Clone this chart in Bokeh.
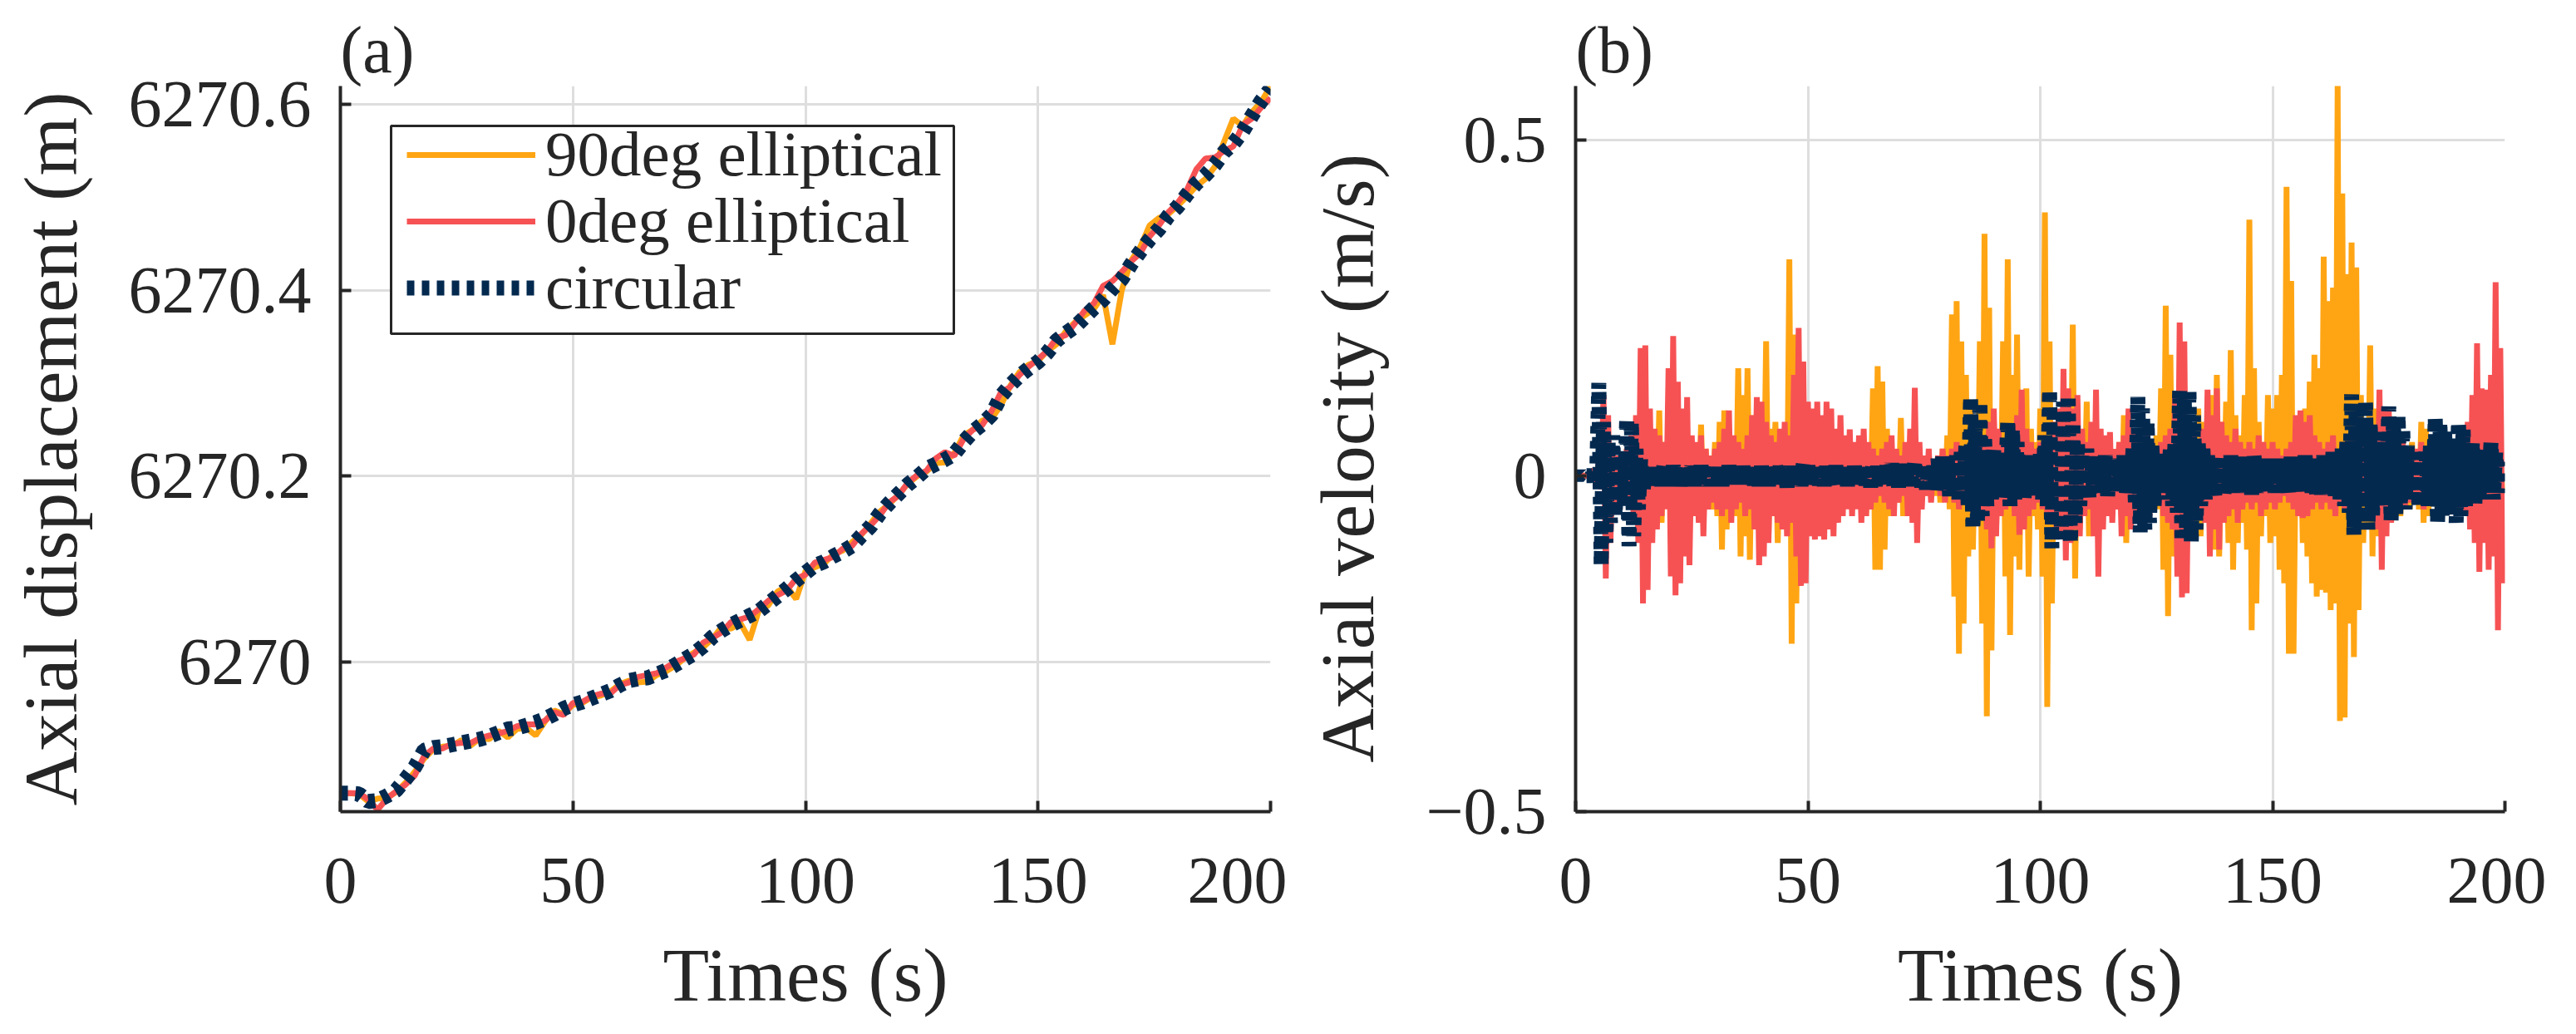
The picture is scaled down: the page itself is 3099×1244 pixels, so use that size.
from bokeh.plotting import figure
from bokeh.layouts import row
from bokeh.models import (Range1d, FixedTicker, CustomJSTickFormatter, Legend,
                          LegendItem, BoxAnnotation)
from bokeh.embed import file_html
from bokeh.resources import INLINE

# ---------------- data ----------------
series_names = ["90deg elliptical", "0deg elliptical", "circular"]
x_ticks = [0, 50, 100, 150, 200]
disp_ticks = [6270, 6270.2, 6270.4, 6270.6]
vel_ticks = [-0.5, 0, 0.5]

disp_t = list(range(0, 201, 2))
disp_90 = [
    6269.859, 6269.859, 6269.858, 6269.850, 6269.853, 6269.854, 6269.860, 6269.870, 6269.882, 6269.896,
    6269.906, 6269.909, 6269.910, 6269.916, 6269.910, 6269.918, 6269.917, 6269.926, 6269.919, 6269.928,
    6269.929, 6269.921, 6269.936, 6269.948, 6269.944, 6269.954, 6269.956, 6269.962, 6269.964, 6269.968,
    6269.976, 6269.980, 6269.978, 6269.979, 6269.986, 6269.990, 6269.996, 6270.004, 6270.010, 6270.016,
    6270.025, 6270.038, 6270.036, 6270.042, 6270.024, 6270.056, 6270.061, 6270.076, 6270.081, 6270.068,
    6270.098, 6270.102, 6270.106, 6270.116, 6270.120, 6270.129, 6270.137, 6270.149, 6270.162, 6270.170,
    6270.180, 6270.192, 6270.200, 6270.205, 6270.214, 6270.215, 6270.225, 6270.244, 6270.250, 6270.260,
    6270.262, 6270.276, 6270.297, 6270.312, 6270.320, 6270.324, 6270.335, 6270.342, 6270.356, 6270.366,
    6270.373, 6270.380, 6270.395, 6270.342, 6270.400, 6270.432, 6270.447, 6270.470, 6270.478, 6270.482,
    6270.491, 6270.501, 6270.512, 6270.520, 6270.533, 6270.560, 6270.585, 6270.577, 6270.592, 6270.603,
    6270.620]
disp_0 = [
    6269.859, 6269.859, 6269.859, 6269.852, 6269.841, 6269.853, 6269.861, 6269.868, 6269.878, 6269.899,
    6269.907, 6269.907, 6269.912, 6269.913, 6269.913, 6269.918, 6269.921, 6269.923, 6269.926, 6269.931,
    6269.933, 6269.933, 6269.937, 6269.946, 6269.943, 6269.956, 6269.957, 6269.963, 6269.966, 6269.966,
    6269.975, 6269.978, 6269.984, 6269.986, 6269.988, 6269.994, 6270.000, 6270.004, 6270.008, 6270.021,
    6270.026, 6270.032, 6270.043, 6270.046, 6270.049, 6270.057, 6270.066, 6270.072, 6270.077, 6270.090,
    6270.094, 6270.107, 6270.110, 6270.113, 6270.122, 6270.125, 6270.138, 6270.147, 6270.158, 6270.172,
    6270.179, 6270.193, 6270.201, 6270.206, 6270.219, 6270.226, 6270.222, 6270.240, 6270.250, 6270.255,
    6270.270, 6270.290, 6270.296, 6270.309, 6270.318, 6270.326, 6270.335, 6270.349, 6270.352, 6270.365,
    6270.378, 6270.386, 6270.405, 6270.410, 6270.420, 6270.431, 6270.440, 6270.458, 6270.470, 6270.484,
    6270.494, 6270.508, 6270.530, 6270.542, 6270.543, 6270.550, 6270.555, 6270.578, 6270.585, 6270.597,
    6270.607]
disp_circ = [
    6269.859, 6269.859, 6269.858, 6269.850, 6269.851, 6269.856, 6269.862, 6269.874, 6269.887, 6269.905,
    6269.908, 6269.909, 6269.911, 6269.913, 6269.915, 6269.917, 6269.920, 6269.924, 6269.928, 6269.929,
    6269.932, 6269.935, 6269.939, 6269.944, 6269.950, 6269.954, 6269.957, 6269.961, 6269.965, 6269.969,
    6269.975, 6269.980, 6269.982, 6269.983, 6269.987, 6269.991, 6269.997, 6270.003, 6270.009, 6270.017,
    6270.027, 6270.034, 6270.040, 6270.045, 6270.050, 6270.055, 6270.063, 6270.071, 6270.079, 6270.088,
    6270.096, 6270.104, 6270.108, 6270.114, 6270.119, 6270.125, 6270.136, 6270.146, 6270.160, 6270.171,
    6270.181, 6270.191, 6270.199, 6270.208, 6270.213, 6270.218, 6270.224, 6270.237, 6270.248, 6270.256,
    6270.266, 6270.286, 6270.298, 6270.308, 6270.316, 6270.323, 6270.333, 6270.346, 6270.354, 6270.361,
    6270.371, 6270.381, 6270.390, 6270.402, 6270.412, 6270.428, 6270.442, 6270.455, 6270.466, 6270.480,
    6270.490, 6270.503, 6270.515, 6270.524, 6270.535, 6270.549, 6270.558, 6270.571, 6270.588, 6270.604,
    6270.617]

# velocity: per-second upper and lower swing values (s = 0..199)
vel_sec = list(range(200))
vel_90_hi = [
    0.0, 0.0, 0.0, 0.0, 0.005, 0.01, 0.02, 0.03, 0.03, 0.02,
    0.03, 0.02, 0.03, 0.02, 0.03, 0.04, 0.05, 0.06, 0.097, 0.05,
    0.04, 0.03, 0.05, 0.03, 0.04, 0.05, 0.03, 0.076, 0.04, 0.03,
    0.05, 0.08, 0.097, 0.06, 0.04, 0.16, 0.12, 0.16, 0.09, 0.06,
    0.05, 0.20, 0.07, 0.08, 0.06, 0.05, 0.322, 0.21, 0.12, 0.06,
    0.04, 0.03, 0.05, 0.02, 0.03, 0.02, 0.03, 0.02, 0.03, 0.04,
    0.03, 0.02, 0.05, 0.04, 0.13, 0.163, 0.14, 0.07, 0.04, 0.03,
    0.086, 0.04, 0.03, 0.02, 0.03, 0.02, 0.03, 0.02, 0.03, 0.04,
    0.06, 0.24, 0.26, 0.20, 0.15, 0.10, 0.06, 0.20, 0.36, 0.25,
    0.08, 0.05, 0.20, 0.322, 0.15, 0.21, 0.09, 0.13, 0.07, 0.05,
    0.10, 0.392, 0.20, 0.08, 0.05, 0.04, 0.06, 0.225, 0.09, 0.05,
    0.11, 0.05, 0.03, 0.04, 0.03, 0.04, 0.03, 0.05, 0.09, 0.06,
    0.04, 0.05, 0.03, 0.04, 0.05, 0.06, 0.13, 0.253, 0.18, 0.09,
    0.06, 0.05, 0.04, 0.07, 0.10, 0.08, 0.06, 0.12, 0.15, 0.08,
    0.11, 0.187, 0.09, 0.06, 0.12, 0.381, 0.16, 0.08, 0.05, 0.12,
    0.10, 0.12, 0.15, 0.43, 0.29, 0.06, 0.08, 0.10, 0.14, 0.18,
    0.16, 0.326, 0.26, 0.28, 0.583, 0.42, 0.30, 0.347, 0.31, 0.12,
    0.07, 0.194, 0.10, 0.06, 0.05, 0.09, 0.04, 0.06, 0.05, 0.04,
    0.05, 0.03, 0.08, 0.07, 0.04, 0.05, 0.06, 0.04, 0.05, 0.04,
    0.05, 0.04, 0.03, 0.04, 0.05, 0.04, 0.06, 0.05, 0.03, 0.02]
vel_90_lo = [
    0.0, 0.0, 0.0, 0.0, -0.005, -0.01, -0.02, -0.03, -0.02, -0.03,
    -0.02, -0.03, -0.02, -0.04, -0.03, -0.04, -0.05, -0.06, -0.07, -0.04,
    -0.03, -0.04, -0.03, -0.05, -0.04, -0.03, -0.05, -0.06, -0.04, -0.05,
    -0.06, -0.11, -0.08, -0.05, -0.06, -0.12, -0.09, -0.125, -0.07, -0.05,
    -0.06, -0.09, -0.05, -0.10, -0.06, -0.08, -0.25, -0.19, -0.08, -0.05,
    -0.03, -0.04, -0.02, -0.03, -0.02, -0.03, -0.02, -0.04, -0.03, -0.02,
    -0.04, -0.03, -0.06, -0.05, -0.14, -0.14, -0.11, -0.06, -0.03, -0.04,
    -0.06, -0.03, -0.02, -0.03, -0.02, -0.03, -0.02, -0.03, -0.04, -0.03,
    -0.05, -0.18, -0.265, -0.22, -0.12, -0.11, -0.07, -0.22, -0.358, -0.26,
    -0.08, -0.06, -0.15, -0.237, -0.12, -0.14, -0.07, -0.15, -0.06, -0.08,
    -0.15, -0.344, -0.19, -0.09, -0.05, -0.04, -0.07, -0.153, -0.08, -0.04,
    -0.09, -0.04, -0.03, -0.05, -0.03, -0.03, -0.04, -0.06, -0.10, -0.05,
    -0.03, -0.04, -0.05, -0.03, -0.04, -0.05, -0.14, -0.209, -0.12, -0.07,
    -0.05, -0.04, -0.06, -0.08, -0.09, -0.07, -0.08, -0.11, -0.12, -0.07,
    -0.10, -0.14, -0.10, -0.07, -0.11, -0.23, -0.19, -0.09, -0.06, -0.10,
    -0.09, -0.14, -0.16, -0.265, -0.265, -0.06, -0.10, -0.12, -0.16, -0.18,
    -0.17, -0.174, -0.20, -0.19, -0.365, -0.36, -0.22, -0.27, -0.20, -0.10,
    -0.07, -0.12, -0.09, -0.05, -0.04, -0.07, -0.04, -0.06, -0.04, -0.05,
    -0.04, -0.05, -0.07, -0.06, -0.04, -0.05, -0.04, -0.05, -0.04, -0.05,
    -0.04, -0.05, -0.04, -0.03, -0.04, -0.05, -0.04, -0.03, -0.02, -0.02]
vel_0_hi = [
    0.0, 0.0, 0.0, 0.0, 0.01, 0.02, 0.12, 0.09, 0.04, 0.03,
    0.03, 0.04, 0.06, 0.09, 0.19, 0.194, 0.10, 0.07, 0.06, 0.05,
    0.16, 0.208, 0.14, 0.10, 0.117, 0.06, 0.05, 0.06, 0.04, 0.03,
    0.04, 0.05, 0.07, 0.097, 0.06, 0.05, 0.04, 0.06, 0.09, 0.117,
    0.11, 0.08, 0.06, 0.05, 0.07, 0.08, 0.06, 0.15, 0.22, 0.17,
    0.11, 0.10, 0.11, 0.09, 0.11, 0.10, 0.07, 0.09, 0.06, 0.069,
    0.05, 0.06, 0.07, 0.05, 0.04, 0.03, 0.04, 0.05, 0.06, 0.04,
    0.03, 0.05, 0.07, 0.131, 0.05, 0.03, 0.04, 0.02, 0.03, 0.04,
    0.03, 0.04, 0.05, 0.04, 0.03, 0.04, 0.05, 0.06, 0.05, 0.08,
    0.10, 0.07, 0.05, 0.04, 0.06, 0.09, 0.128, 0.07, 0.05, 0.04,
    0.05, 0.06, 0.05, 0.08, 0.10, 0.159, 0.13, 0.10, 0.12, 0.07,
    0.05, 0.08, 0.128, 0.07, 0.06, 0.065, 0.04, 0.05, 0.06, 0.10,
    0.07, 0.05, 0.04, 0.06, 0.05, 0.04, 0.05, 0.06, 0.07, 0.12,
    0.228, 0.20, 0.08, 0.06, 0.05, 0.07, 0.128, 0.09, 0.13, 0.08,
    0.06, 0.05, 0.07, 0.05, 0.04, 0.05, 0.04, 0.06, 0.05, 0.04,
    0.05, 0.04, 0.03, 0.04, 0.05, 0.09, 0.097, 0.08, 0.09, 0.06,
    0.05, 0.04, 0.05, 0.06, 0.04, 0.05, 0.04, 0.06, 0.05, 0.04,
    0.05, 0.06, 0.07, 0.128, 0.10, 0.097, 0.05, 0.04, 0.05, 0.04,
    0.03, 0.04, 0.05, 0.04, 0.03, 0.04, 0.03, 0.04, 0.05, 0.04,
    0.05, 0.06, 0.08, 0.12, 0.197, 0.13, 0.128, 0.15, 0.288, 0.19]
vel_0_lo = [
    0.0, 0.0, 0.0, 0.0, -0.01, -0.02, -0.153, -0.10, -0.05, -0.04,
    -0.04, -0.05, -0.07, -0.10, -0.19, -0.17, -0.10, -0.08, -0.06, -0.05,
    -0.15, -0.178, -0.16, -0.12, -0.133, -0.06, -0.07, -0.09, -0.05, -0.04,
    -0.05, -0.06, -0.05, -0.07, -0.05, -0.04, -0.06, -0.05, -0.08, -0.133,
    -0.12, -0.10, -0.06, -0.07, -0.08, -0.09, -0.07, -0.12, -0.164, -0.16,
    -0.09, -0.095, -0.09, -0.095, -0.08, -0.09, -0.07, -0.06, -0.05, -0.06,
    -0.05, -0.07, -0.06, -0.05, -0.04, -0.03, -0.04, -0.05, -0.06, -0.04,
    -0.03, -0.06, -0.07, -0.10, -0.05, -0.03, -0.04, -0.02, -0.03, -0.04,
    -0.03, -0.04, -0.05, -0.04, -0.05, -0.04, -0.05, -0.06, -0.08, -0.108,
    -0.09, -0.06, -0.05, -0.04, -0.06, -0.088, -0.08, -0.06, -0.05, -0.04,
    -0.05, -0.06, -0.07, -0.08, -0.09, -0.126, -0.10, -0.08, -0.09, -0.06,
    -0.05, -0.09, -0.15, -0.08, -0.06, -0.07, -0.05, -0.09, -0.06, -0.08,
    -0.06, -0.05, -0.04, -0.06, -0.05, -0.04, -0.06, -0.07, -0.08, -0.15,
    -0.181, -0.175, -0.08, -0.06, -0.05, -0.07, -0.12, -0.08, -0.11, -0.07,
    -0.06, -0.05, -0.07, -0.05, -0.04, -0.05, -0.04, -0.06, -0.05, -0.04,
    -0.05, -0.04, -0.03, -0.04, -0.05, -0.06, -0.063, -0.06, -0.05, -0.04,
    -0.05, -0.04, -0.05, -0.06, -0.04, -0.05, -0.04, -0.06, -0.05, -0.04,
    -0.05, -0.06, -0.08, -0.14, -0.09, -0.07, -0.05, -0.04, -0.05, -0.04,
    -0.03, -0.04, -0.05, -0.04, -0.03, -0.04, -0.03, -0.04, -0.05, -0.04,
    -0.05, -0.06, -0.08, -0.10, -0.143, -0.10, -0.14, -0.12, -0.23, -0.16]
vel_circ_hi = [
    0.002, 0.002, 0.0, 0.0, 0.01, 0.138, 0.08, 0.05, 0.06, 0.03,
    0.03, 0.086, 0.08, 0.04, 0.025, 0.015, 0.012, 0.015, 0.012, 0.015,
    0.012, 0.015, 0.014, 0.01, 0.015, 0.014, 0.012, 0.015, 0.017, 0.012,
    0.015, 0.012, 0.014, 0.015, 0.012, 0.01, 0.014, 0.015, 0.012, 0.015,
    0.014, 0.015, 0.012, 0.017, 0.014, 0.012, 0.015, 0.014, 0.015, 0.018,
    0.015, 0.014, 0.012, 0.015, 0.014, 0.012, 0.015, 0.014, 0.012, 0.015,
    0.014, 0.015, 0.012, 0.015, 0.017, 0.014, 0.012, 0.015, 0.018, 0.015,
    0.014, 0.017, 0.015, 0.022, 0.018, 0.015, 0.014, 0.02, 0.025, 0.028,
    0.025, 0.02, 0.03, 0.035, 0.045, 0.117, 0.08, 0.11, 0.06, 0.035,
    0.04, 0.03, 0.025, 0.083, 0.07, 0.05, 0.03, 0.025, 0.03, 0.025,
    0.035, 0.06, 0.128, 0.10, 0.09, 0.11, 0.12, 0.08, 0.05, 0.035,
    0.04, 0.03, 0.025, 0.025, 0.03, 0.025, 0.018, 0.025, 0.03, 0.025,
    0.045, 0.117, 0.10, 0.08, 0.05, 0.035, 0.025, 0.03, 0.04, 0.05,
    0.128, 0.11, 0.128, 0.09, 0.05, 0.04, 0.03, 0.025, 0.03, 0.025,
    0.025, 0.03, 0.025, 0.02, 0.028, 0.025, 0.03, 0.02, 0.025, 0.018,
    0.02, 0.025, 0.018, 0.025, 0.028, 0.02, 0.025, 0.03, 0.025, 0.02,
    0.025, 0.03, 0.028, 0.035, 0.03, 0.04, 0.05, 0.121, 0.10, 0.09,
    0.11, 0.08, 0.07, 0.045, 0.05, 0.103, 0.08, 0.09, 0.07, 0.045,
    0.035, 0.04, 0.035, 0.04, 0.05, 0.086, 0.08, 0.07, 0.06, 0.045,
    0.08, 0.07, 0.045, 0.05, 0.035, 0.04, 0.035, 0.05, 0.035, 0.02]
vel_circ_lo = [
    -0.002, -0.002, 0.0, 0.0, -0.01, -0.133, -0.10, -0.07, -0.06, -0.04,
    -0.04, -0.105, -0.09, -0.05, -0.025, -0.015, -0.014, -0.012, -0.015, -0.012,
    -0.015, -0.012, -0.015, -0.014, -0.012, -0.015, -0.014, -0.012, -0.015, -0.014,
    -0.012, -0.015, -0.014, -0.012, -0.015, -0.014, -0.012, -0.015, -0.014, -0.015,
    -0.012, -0.015, -0.014, -0.012, -0.015, -0.017, -0.014, -0.012, -0.015, -0.014,
    -0.015, -0.012, -0.014, -0.015, -0.012, -0.015, -0.014, -0.012, -0.015, -0.014,
    -0.012, -0.015, -0.014, -0.017, -0.015, -0.012, -0.015, -0.014, -0.015, -0.017,
    -0.015, -0.014, -0.02, -0.015, -0.017, -0.02, -0.015, -0.025, -0.02, -0.025,
    -0.03, -0.025, -0.035, -0.03, -0.045, -0.08, -0.07, -0.06, -0.045, -0.035,
    -0.025, -0.035, -0.025, -0.045, -0.035, -0.025, -0.035, -0.025, -0.025, -0.035,
    -0.035, -0.045, -0.108, -0.10, -0.09, -0.09, -0.10, -0.07, -0.045, -0.035,
    -0.035, -0.025, -0.025, -0.025, -0.03, -0.025, -0.025, -0.018, -0.03, -0.025,
    -0.045, -0.084, -0.08, -0.07, -0.045, -0.025, -0.035, -0.025, -0.045, -0.055,
    -0.098, -0.09, -0.098, -0.08, -0.045, -0.035, -0.025, -0.035, -0.025, -0.03,
    -0.025, -0.03, -0.025, -0.03, -0.025, -0.028, -0.025, -0.02, -0.025, -0.02,
    -0.025, -0.02, -0.025, -0.028, -0.025, -0.02, -0.025, -0.028, -0.025, -0.03,
    -0.028, -0.03, -0.025, -0.03, -0.035, -0.045, -0.055, -0.088, -0.08, -0.07,
    -0.08, -0.06, -0.045, -0.035, -0.045, -0.067, -0.06, -0.045, -0.05, -0.035,
    -0.035, -0.045, -0.035, -0.045, -0.045, -0.07, -0.06, -0.045, -0.05, -0.07,
    -0.06, -0.045, -0.035, -0.045, -0.035, -0.035, -0.025, -0.035, -0.025, -0.02]

# ---------------- styling ----------------
FONT = "Liberation Serif"
INK = "#262626"
C90 = "#FFA514"
C0 = "#F65254"
CCIRC = "#03294F"


def swing(secs, hi, lo):
    xs, ys = [], []
    for s, h, l in zip(secs, hi, lo):
        xs += [s, s + 0.5]
        ys += [h, l]
    return xs, ys


fmt = CustomJSTickFormatter(code="""
    const r = Math.round(tick);
    let s = (Math.abs(tick - r) < 1e-9) ? r.toFixed(0) : tick.toFixed(1);
    return s.replace('-', '\u2212');
""")


def style(p, yticks, panel_tag):
    p.outline_line_color = None
    p.background_fill_color = "white"
    p.border_fill_color = "white"
    p.xaxis.ticker = FixedTicker(ticks=x_ticks)
    p.yaxis.ticker = FixedTicker(ticks=yticks)
    p.xaxis.formatter = fmt
    p.yaxis.formatter = fmt
    for ax in (p.xaxis[0], p.yaxis[0]):
        ax.axis_line_width = 4
        ax.axis_line_color = INK
        ax.major_tick_line_width = 4
        ax.major_tick_line_color = INK
        ax.major_tick_in = 13
        ax.major_tick_out = 0
        ax.minor_tick_line_color = None
        ax.major_label_text_font = FONT
        ax.major_label_text_font_size = "80px"
        ax.major_label_text_color = INK
        ax.major_label_text_line_height = 1.0
        ax.axis_label_text_font = FONT
        ax.axis_label_text_font_size = "91px"
        ax.axis_label_text_font_style = "normal"
        ax.axis_label_text_color = INK
        ax.axis_label_text_line_height = 1.0
    p.xaxis.major_label_standoff = 56
    p.yaxis.major_label_standoff = 35
    p.xaxis.axis_label_standoff = 34
    p.yaxis.axis_label_standoff = 40
    for g in (p.xgrid[0], p.ygrid[0]):
        g.grid_line_color = "#dedede"
        g.grid_line_width = 3
    p.title.text = panel_tag
    p.title.align = "left"
    p.title.text_font = FONT
    p.title.text_font_size = "80px"
    p.title.text_font_style = "normal"
    p.title.text_color = INK
    p.title.text_line_height = 1.0
    p.title.standoff = 0
    p.title.offset = 0


# ---------------- (a) displacement ----------------
p1 = figure(width=1548, height=1240, x_range=Range1d(0, 200),
            y_range=Range1d(6269.839, 6270.62), output_backend="svg",
            toolbar_location=None, min_border_left=409, min_border_right=20,
            min_border_top=103, min_border_bottom=264)
style(p1, disp_ticks, "(a)")
p1.xaxis.axis_label = "Times (s)"
p1.yaxis.axis_label = "Axial displacement (m)"

r90 = p1.line(disp_t, disp_90, line_color=C90, line_width=7)
r0 = p1.line(disp_t, disp_0, line_color=C0, line_width=7)
rc = p1.line(disp_t, disp_circ, line_color=CCIRC, line_width=18,
             line_dash="9 9", line_cap="butt")

# legend frame (screen units relative to the plot frame)
p1.add_layout(BoxAnnotation(left=61, right=738, bottom=575, top=825,
                            left_units="screen", right_units="screen",
                            top_units="screen", bottom_units="screen",
                            fill_color="white", fill_alpha=1.0,
                            line_color=INK, line_alpha=1.0, line_width=3))

for name, rend, ypos in zip(series_names, [r90, r0, rc], [746, 666, 586]):
    lg = Legend(items=[LegendItem(label=name, renderers=[rend])],
                location=(80, ypos), orientation="vertical",
                label_text_font=FONT, label_text_font_size="77px",
                label_text_color=INK, glyph_width=155, glyph_height=60,
                label_standoff=12, spacing=0, padding=0, margin=0,
                border_line_color=None, background_fill_alpha=0.0)
    p1.add_layout(lg)

# ---------------- (b) velocity ----------------
p2 = figure(width=1515, height=1240, x_range=Range1d(0, 200),
            y_range=Range1d(-0.5, 0.58), output_backend="svg",
            toolbar_location=None, min_border_left=347, min_border_right=50,
            min_border_top=103, min_border_bottom=264)
style(p2, vel_ticks, "(b)")
p2.xaxis.axis_label = "Times (s)"
p2.yaxis.axis_label = "Axial  velocity (m/s)"

x90, y90 = swing(vel_sec, vel_90_hi, vel_90_lo)
x0, y0 = swing(vel_sec, vel_0_hi, vel_0_lo)
xc, yc = swing(vel_sec, vel_circ_hi, vel_circ_lo)
p2.line(x90, y90, line_color=C90, line_width=7)
p2.line(x0, y0, line_color=C0, line_width=7)
p2.line(xc, yc, line_color=CCIRC, line_width=18, line_dash="9 9", line_cap="butt")

layout = row(p1, p2)
open("out.html", "w").write(file_html(layout, INLINE))
